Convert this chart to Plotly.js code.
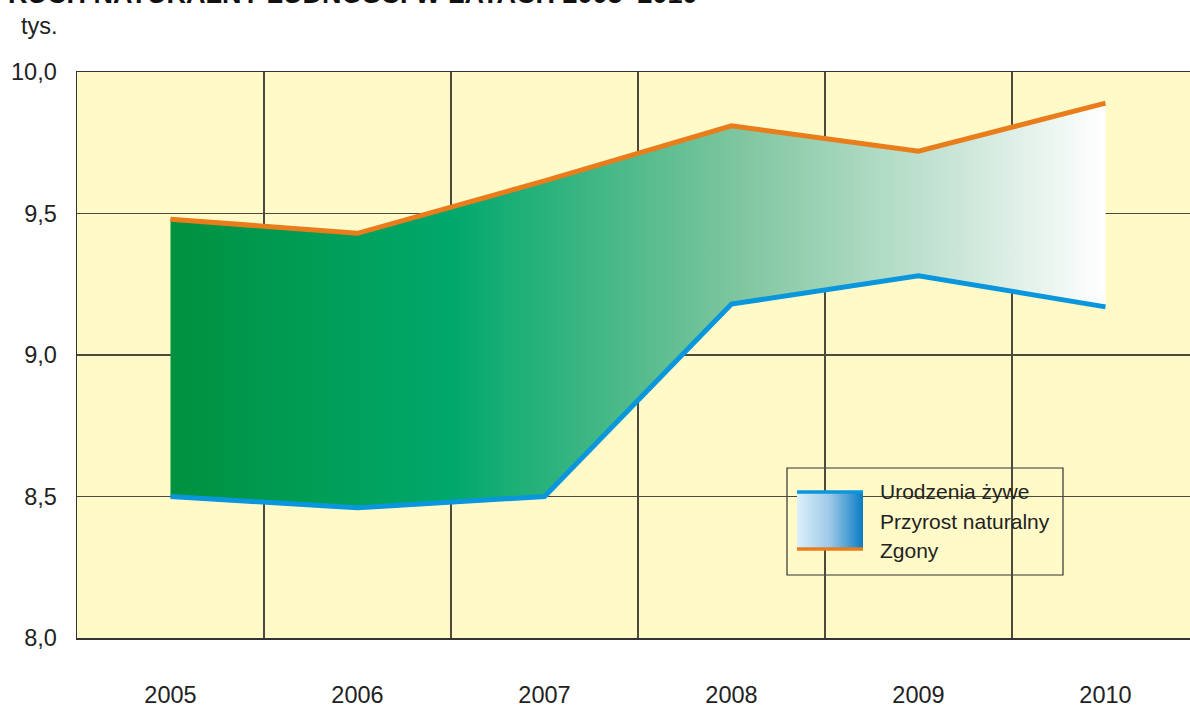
<!DOCTYPE html>
<html>
<head>
<meta charset="utf-8">
<script src="https://cdn.plot.ly/plotly-3.0.1.min.js"></script>
<style>
html,body{margin:0;padding:0;overflow:hidden;background:#fff;}
#chart{width:1199px;height:707px;}
</style>
</head>
<body>
<div id="chart"></div>
<script>
// ---- data ----
const years = [2005, 2006, 2007, 2008, 2009, 2010];
const urodzenia = [8.50, 8.46, 8.50, 9.18, 9.28, 9.17];
const zgony = [9.48, 9.43, 9.615, 9.81, 9.72, 9.89];
const yTicks = [8.0, 8.5, 9.0, 9.5, 10.0];
const legendLabels = ['Urodzenia żywe', 'Przyrost naturalny', 'Zgony'];
const titleText = 'RUCH NATURALNY LUDNOŚCI W LATACH 2005–2010';
const unitText = 'tys.';

// ---- styles ----
const FONT = 'Liberation Sans, Arial, sans-serif';
const BG = '#FFFAC8';
const GRID = '#4d4a3c';
const ORANGE = '#E97D1C';
const BLUE = '#0A96DC';

const W = 1199, H = 707;
const M = {l: 77, r: 0, t: 72, b: 69};
const PW = W - M.l - M.r, PH = H - M.t - M.b;
const px = x => (x - M.l) / PW;
const py = y => (H - M.b - y) / PH;

const traces = [
  {
    x: years, y: urodzenia, name: legendLabels[0], type: 'scatter', mode: 'lines',
    line: {color: BLUE, width: 5}, showlegend: false, hoverinfo: 'x+y'
  },
  {
    x: years, y: zgony, name: legendLabels[2], type: 'scatter', mode: 'lines',
    line: {color: ORANGE, width: 5}, fill: 'tonexty',
    fillgradient: {
      type: 'horizontal',
      colorscale: [[0, '#00913F'], [0.3, '#00A86B'], [0.6, '#7CC59E'], [0.85, '#CDE7DA'], [1, '#FFFFFF']]
    },
    showlegend: false, hoverinfo: 'x+y'
  }
];

const gradSvg = '<svg xmlns="http://www.w3.org/2000/svg" width="66" height="56">' +
  '<defs><linearGradient id="g" x1="0" y1="0" x2="1" y2="0">' +
  '<stop offset="0" stop-color="#DCF0FB"/><stop offset="0.5" stop-color="#9CC8E8"/><stop offset="1" stop-color="#0A7CC4"/>' +
  '</linearGradient></defs><rect width="66" height="56" fill="url(#g)"/></svg>';

const layout = {
  width: W, height: H,
  margin: M,
  paper_bgcolor: '#FFFFFF',
  plot_bgcolor: BG,
  separators: ', ',
  font: {family: FONT, size: 21, color: '#222'},
  showlegend: false,
  xaxis: {
    range: [2004.5, 2010.5],
    tickvals: years, ticktext: years.map(String),
    showgrid: false, zeroline: false,
    ticks: 'outside', ticklen: 35, tickcolor: 'rgba(0,0,0,0)',
    tickfont: {family: FONT, size: 23.5, color: '#222'},
    showline: true, mirror: true, linecolor: '#333', linewidth: 1.5,
    minor: {tick0: 2004.5, dtick: 1, showgrid: true, gridcolor: GRID, gridwidth: 1.3, ticks: ''}
  },
  yaxis: {
    range: [8, 10],
    tickvals: yTicks, tickformat: '.1f',
    showgrid: true, gridcolor: GRID, gridwidth: 1.3, zeroline: false,
    ticks: 'outside', ticklen: 14, tickcolor: 'rgba(0,0,0,0)',
    tickfont: {family: FONT, size: 23.5, color: '#222'},
    showline: true, mirror: true, linecolor: '#333', linewidth: 1.5
  },
  shapes: [
    {type: 'rect', xref: 'paper', yref: 'paper', x0: px(787), x1: px(1063), y0: py(575), y1: py(468),
     fillcolor: BG, line: {color: '#333', width: 1.2}, layer: 'between'},
    {type: 'line', xref: 'paper', yref: 'paper', x0: px(797), x1: px(863), y0: py(492), y1: py(492),
     line: {color: BLUE, width: 3.5}, layer: 'above'},
    {type: 'line', xref: 'paper', yref: 'paper', x0: px(797), x1: px(863), y0: py(549), y1: py(549),
     line: {color: ORANGE, width: 3.5}, layer: 'above'}
  ],
  images: [
    {source: 'data:image/svg+xml;charset=utf-8,' + encodeURIComponent(gradSvg),
     xref: 'paper', yref: 'paper', x: px(797), y: py(493), sizex: 66 / PW, sizey: 55 / PH,
     sizing: 'stretch', xanchor: 'left', yanchor: 'top', layer: 'above'}
  ],
  annotations: [
    {text: legendLabels[0], xref: 'paper', yref: 'paper', x: px(878), y: py(492), xanchor: 'left', yanchor: 'middle',
     showarrow: false, font: {family: FONT, size: 21, color: '#222'}},
    {text: legendLabels[1], xref: 'paper', yref: 'paper', x: px(878), y: py(521), xanchor: 'left', yanchor: 'middle',
     showarrow: false, font: {family: FONT, size: 21, color: '#222'}},
    {text: legendLabels[2], xref: 'paper', yref: 'paper', x: px(878), y: py(550), xanchor: 'left', yanchor: 'middle',
     showarrow: false, font: {family: FONT, size: 21, color: '#222'}},
    {text: unitText, xref: 'paper', yref: 'paper', x: px(19), y: py(26), xanchor: 'left', yanchor: 'middle',
     showarrow: false, font: {family: FONT, size: 23.5, color: '#222'}},
    {text: '<b>' + titleText + '</b>', xref: 'paper', yref: 'paper', x: px(6), y: py(-6), xanchor: 'left', yanchor: 'middle',
     showarrow: false, font: {family: FONT, size: 27, color: '#111'}}
  ]
};

Plotly.newPlot('chart', traces, layout, {displayModeBar: false, staticPlot: true});
</script>
</body>
</html>
